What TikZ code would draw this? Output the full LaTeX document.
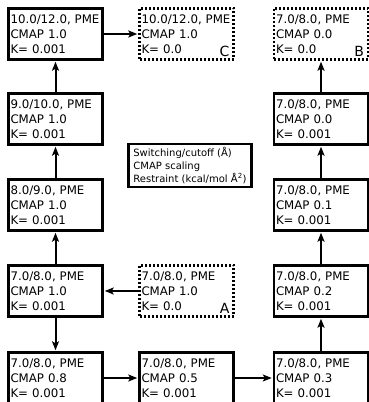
\documentclass[tikz,border=0pt]{standalone}
\usepackage{fontspec}
\setmainfont{DejaVu Sans}
\usetikzlibrary{arrows.meta, positioning}

\begin{document}
\begin{tikzpicture}[
  x=1pt, y=1pt,
  stage/.style={draw, line width=2.4pt, minimum width=94pt, minimum height=51pt, text width=90pt, inner xsep=2pt, inner ysep=0pt, align=left, font=\fontsize{11.8}{15}\selectfont},
  start/.style={stage, dash pattern=on 2pt off 2pt},
  legend/.style={draw, line width=2.4pt, minimum width=123pt, minimum height=42pt, align=left, font=\fontsize{10}{13}\selectfont},
  tag/.style={anchor=south east, inner sep=0pt, font=\fontsize{14}{14}\selectfont},
  arr/.style={-{Stealth[length=9pt, width=7pt, inset=2pt]}, line width=2pt, shorten >=1pt}
]
  \useasboundingbox (0,0) rectangle (369,402);

  % Left column (CMAP 1.0)
  \node[stage] (s1) at (55.5,111) {7.0/8.0, PME\\CMAP 1.0\\K= 0.001};
  \node[stage] (s2) at (55.5,197) {8.0/9.0, PME\\CMAP 1.0\\K= 0.001};
  \node[stage] (s3) at (55.5,283) {9.0/10.0, PME\\CMAP 1.0\\K= 0.001};
  \node[stage] (s4) at (55.5,368) {10.0/12.0, PME\\CMAP 1.0\\K= 0.001};

  % Starting points
  \node[start] (a) at (186.5,111) {7.0/8.0, PME\\CMAP 1.0\\K= 0.0};
  \node[start] (c) at (186.5,368) {10.0/12.0, PME\\CMAP 1.0\\K= 0.0};
  \node[start] (b) at (321,368) {7.0/8.0, PME\\CMAP 0.0\\K= 0.0};
  \node[tag] (taga) at ([xshift=-5pt, yshift=4pt]a.south east) {A};
  \node[tag] (tagb) at ([xshift=-5pt, yshift=4pt]b.south east) {B};
  \node[tag] (tagc) at ([xshift=-5pt, yshift=4pt]c.south east) {C};

  % CMAP scaling path
  \node[stage] (m1) at (55.5,24) {7.0/8.0, PME\\CMAP 0.8\\K= 0.001};
  \node[stage] (m2) at (186.5,24) {7.0/8.0, PME\\CMAP 0.5\\K= 0.001};
  \node[stage] (m3) at (321,24) {7.0/8.0, PME\\CMAP 0.3\\K= 0.001};
  \node[stage] (m4) at (321,111) {7.0/8.0, PME\\CMAP 0.2\\K= 0.001};
  \node[stage] (m5) at (321,197) {7.0/8.0, PME\\CMAP 0.1\\K= 0.001};
  \node[stage] (m6) at (321,283) {7.0/8.0, PME\\CMAP 0.0\\K= 0.001};

  % Legend
  \node[legend] (key) at (190,236.5) {Switching/cutoff (Å)\\CMAP scaling\\Restraint (kcal/mol Å\textsuperscript{2})};

  % Connections
  \foreach \u/\v in {a/s1, s1/s2, s2/s3, s3/s4, s4/c, s1/m1, m1/m2, m2/m3, m3/m4, m4/m5, m5/m6, m6/b}
    \draw[arr] (\u) -- (\v);
\end{tikzpicture}
\end{document}
